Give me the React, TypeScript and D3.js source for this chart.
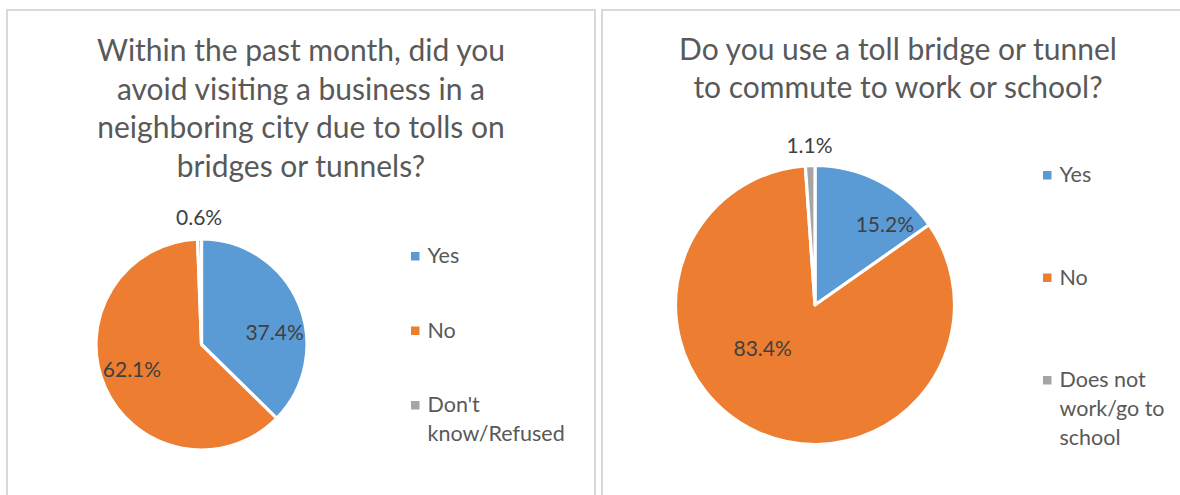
import React from "react";
import * as d3 from "d3";

// ---------- data ----------
const leftTitle = [
  "Within the past month, did you",
  "avoid visiting a business in a",
  "neighboring city due to tolls on",
  "bridges or tunnels?",
];
const leftCategories = ["Yes", "No", "Don't know/Refused"];
const leftLegendLines = [["Yes"], ["No"], ["Don't", "know/Refused"]];
const leftValues = [37.4, 62.1, 0.6];

const rightTitle = ["Do you use a toll bridge or tunnel", "to commute to work or school?"];
const rightCategories = ["Yes", "No", "Does not work/go to school"];
const rightLegendLines = [["Yes"], ["No"], ["Does not", "work/go to", "school"]];
const rightValues = [15.2, 83.4, 1.1];

const sliceColors = ["#5B9BD5", "#ED7D31", "#A5A5A5"];

// ---------- layout ----------
const FONT = "Lato, 'Open Sans', sans-serif";
const W = 1180;
const H = 495;

type PanelCfg = {
  x: number;
  w: number;
  titleLines: string[];
  titleX: number;
  titleY0: number;
  titleStep: number;
  cx: number;
  cy: number;
  r: number;
  categories: string[];
  legendLines: string[][];
  values: number[];
  legendX: number;
  legendY: [number, number];
  labelPlace: { k: number; dx: number; dy: number }[];
};

const panels: PanelCfg[] = [
  {
    x: 7,
    w: 588,
    titleLines: leftTitle,
    titleX: 301,
    titleY0: 61,
    titleStep: 38.7,
    cx: 201.5,
    cy: 344.5,
    r: 105.5,
    categories: leftCategories,
    legendLines: leftLegendLines,
    values: leftValues,
    legendX: 411,
    legendY: [263, 412],
    labelPlace: [
      { k: 0.7, dx: 5, dy: 17 },
      { k: 0.7, dx: -2, dy: -5 },
      { k: 1.2, dx: 0, dy: 0 },
    ],
  },
  {
    x: 602,
    w: 600,
    titleLines: rightTitle,
    titleX: 898,
    titleY0: 60,
    titleStep: 38,
    cx: 815,
    cy: 305,
    r: 139.5,
    categories: rightCategories,
    legendLines: rightLegendLines,
    values: rightValues,
    legendX: 1043,
    legendY: [182, 387],
    labelPlace: [
      { k: 0.76, dx: 21, dy: 14 },
      { k: 0.49, dx: -23, dy: -18 },
      { k: 1.14, dx: 0, dy: 0 },
    ],
  },
];

function Panel({ p }: { p: PanelCfg }) {
  const pie = d3
    .pie<number>()
    .sort(null)
    .value((d) => d)
    .startAngle(0)
    .endAngle(2 * Math.PI);
  const arcs = pie(p.values);
  const arc = d3.arc<d3.PieArcDatum<number>>().innerRadius(0).outerRadius(p.r);
  const legendScale = d3
    .scalePoint<string>()
    .domain(p.categories)
    .range(p.legendY);

  return (
    <g>
      <rect
        x={p.x}
        y={10}
        width={p.w}
        height={H + 20}
        fill="#ffffff"
        stroke="#D9D9D9"
        strokeWidth={2}
      />
      <text
        fontFamily={FONT}
        fontSize={30}
        fill="#595959"
        textAnchor="middle"
      >
        {p.titleLines.map((t, i) => (
          <tspan key={i} x={p.titleX} y={p.titleY0 + i * p.titleStep}>
            {t}
          </tspan>
        ))}
      </text>
      <g transform={`translate(${p.cx},${p.cy})`}>
        {arcs.map((a, i) => (
          <path
            key={i}
            d={arc(a) || ""}
            fill={sliceColors[i]}
            stroke="#ffffff"
            strokeWidth={3.2}
            strokeLinejoin="round"
          />
        ))}
        {arcs.map((a, i) => {
          const pl = p.labelPlace[i];
          const lr = p.r * pl.k;
          const la = d3.arc<d3.PieArcDatum<number>>().innerRadius(lr).outerRadius(lr);
          const [lx, ly] = la.centroid(a);
          return (
            <text
              key={i}
              x={lx + pl.dx}
              y={ly + pl.dy}
              dy="0.35em"
              textAnchor="middle"
              fontFamily={FONT}
              fontSize={21}
              fill="#404040"
            >
              {`${a.data.toFixed(1)}%`}
            </text>
          );
        })}
      </g>
      <g>
        {p.categories.map((c, i) => {
          const y = legendScale(c) as number;
          return (
            <g key={c}>
              <rect
                x={p.legendX}
                y={y - 11}
                width={8.5}
                height={8.5}
                fill={sliceColors[i]}
              />
              <text fontFamily={FONT} fontSize={21.5} fill="#595959">
                {p.legendLines[i].map((t, j) => (
                  <tspan key={j} x={p.legendX + 16.5} y={y + j * 29}>
                    {t}
                  </tspan>
                ))}
              </text>
            </g>
          );
        })}
      </g>
    </g>
  );
}

export default function App() {
  return (
    <svg
      width={W}
      height={H}
      viewBox={`0 0 ${W} ${H}`}
      style={{ position: "absolute", left: 0, top: 0, background: "#ffffff" }}
    >
      <rect x={0} y={0} width={W} height={H} fill="#ffffff" />
      {panels.map((p, i) => (
        <Panel key={i} p={p} />
      ))}
    </svg>
  );
}
